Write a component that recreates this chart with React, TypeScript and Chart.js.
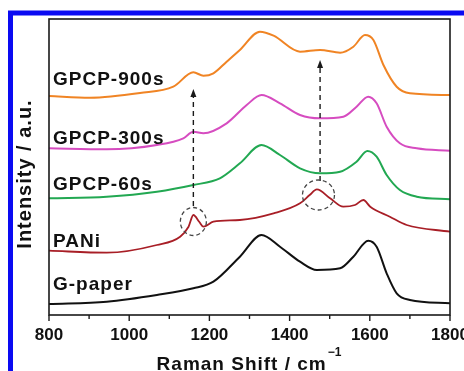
import React, { useEffect, useRef } from "react";
import { Chart, registerables } from "chart.js";

Chart.register(...registerables);

// ---- Data (Raman shift in cm^-1, intensity in arbitrary stacked units) ----
const gpcp900X = [800, 902, 1027, 1110, 1160, 1185, 1210, 1243, 1276, 1326, 1360, 1426, 1476, 1526, 1559, 1588, 1609, 1634, 1667, 1700, 1800];
const gpcp900Y = [219, 217.3, 222, 228.3, 242.7, 239.3, 241.7, 253.3, 265, 283.3, 279.3, 263.3, 265, 262.3, 268.3, 280, 275, 250, 228.3, 221.7, 220];

const gpcp300X = [800, 944, 1069, 1135, 1160, 1185, 1243, 1293, 1330, 1376, 1426, 1476, 1534, 1567, 1596, 1617, 1642, 1675, 1717, 1800];
const gpcp300Y = [166.7, 165.7, 170, 176.7, 183.3, 181.7, 191.7, 210, 220, 211.7, 200, 196.7, 198.3, 208.3, 218.3, 211.7, 188.3, 171.7, 166.7, 164.3];

const gpcp60X = [800, 944, 1069, 1160, 1226, 1276, 1330, 1376, 1426, 1476, 1526, 1567, 1594, 1617, 1642, 1675, 1717, 1800];
const gpcp60Y = [116.7, 118.3, 123.3, 130, 136.7, 151.7, 170, 160, 146.7, 141.7, 143.3, 153.3, 164, 158.3, 140, 125, 118.3, 115.7];

const paniX = [800, 944, 1069, 1127, 1148, 1160, 1175, 1185, 1210, 1276, 1360, 1426, 1450, 1468, 1501, 1534, 1563, 1584, 1601, 1650, 1692, 1800];
const paniY = [64.3, 62.3, 70, 78.3, 88.3, 100, 93, 88.3, 93.3, 95, 101.7, 111.7, 120, 125.7, 116.7, 108.3, 110, 115, 108.3, 98.3, 90, 83.3];

const gPaperX = [800, 944, 1069, 1160, 1210, 1276, 1330, 1376, 1426, 1468, 1526, 1559, 1596, 1617, 1642, 1667, 1700, 1800];
const gPaperY = [11, 13.3, 20, 26.7, 33.3, 58.3, 80, 68.3, 53.3, 45, 46.7, 58.3, 74.3, 68.3, 41.7, 21.7, 15, 11.7];

const seriesNames = ["GPCP-900s", "GPCP-300s", "GPCP-60s", "PANi", "G-paper"];
const seriesColors = ["#f08424", "#d64cc0", "#22a852", "#a81e26", "#111111"];
const labelX = 810;
const labelY = [235, 176.7, 130, 73.3, 30];

const xTickValues = [800, 1000, 1200, 1400, 1600, 1800];

// annotations (data coords)
const arrowX = [1160, 1476];
const arrowFrom = [109, 134];
const arrowTo = [226, 255];
const circleX = [1160, 1472];
const circleY = [93.5, 120];

const FONT = "'Liberation Sans', Arial, Helvetica, sans-serif";

const overlay = {
  id: "overlay",
  afterDraw(chart: any) {
    const ctx: CanvasRenderingContext2D = chart.ctx;
    const { left, right, top, bottom } = chart.chartArea;
    const xs = chart.scales.x;
    const ys = chart.scales.y;
    ctx.save();

    // blue outer border
    ctx.strokeStyle = "#0a0af2";
    ctx.lineWidth = 5;
    ctx.strokeRect(10.5, 13, 700, 600);

    // plot frame
    ctx.strokeStyle = "#1a1a1a";
    ctx.lineWidth = 1.6;
    ctx.strokeRect(left, top, right - left, bottom - top);

    // x ticks (outward)
    ctx.lineWidth = 1.4;
    for (let v = 800; v <= 1800; v += 100) {
      const px = xs.getPixelForValue(v);
      const len = v % 200 === 0 ? 6 : 4;
      ctx.beginPath();
      ctx.moveTo(px, bottom);
      ctx.lineTo(px, bottom + len);
      ctx.stroke();
    }

    // dashed arrows
    ctx.fillStyle = "#1a1a1a";
    for (let i = 0; i < arrowX.length; i++) {
      const px = xs.getPixelForValue(arrowX[i]);
      const p0 = ys.getPixelForValue(arrowFrom[i]);
      const p1 = ys.getPixelForValue(arrowTo[i]);
      ctx.setLineDash([5, 4]);
      ctx.lineWidth = 1.4;
      ctx.beginPath();
      ctx.moveTo(px, p0);
      ctx.lineTo(px, p1 + 7);
      ctx.stroke();
      ctx.setLineDash([]);
      ctx.beginPath();
      ctx.moveTo(px, p1);
      ctx.lineTo(px - 3, p1 + 8);
      ctx.lineTo(px + 3, p1 + 8);
      ctx.closePath();
      ctx.fill();
    }

    // dashed circles
    const radii = [[13, 14], [16, 15]];
    ctx.strokeStyle = "#444";
    ctx.lineWidth = 1.3;
    ctx.setLineDash([4, 3]);
    for (let i = 0; i < circleX.length; i++) {
      const cx = xs.getPixelForValue(circleX[i]);
      const cy = ys.getPixelForValue(circleY[i]);
      ctx.beginPath();
      ctx.ellipse(cx, cy, radii[i][0], radii[i][1], 0, 0, Math.PI * 2);
      ctx.stroke();
    }
    ctx.setLineDash([]);

    // series labels
    ctx.fillStyle = "#111";
    ctx.font = `bold 19px ${FONT}`;
    (ctx as any).letterSpacing = "1px";
    ctx.textAlign = "left";
    ctx.textBaseline = "middle";
    for (let i = 0; i < seriesNames.length; i++) {
      ctx.fillText(seriesNames[i], xs.getPixelForValue(labelX), ys.getPixelForValue(labelY[i]));
    }

    // y title
    ctx.save();
    ctx.font = `bold 20px ${FONT}`;
    (ctx as any).letterSpacing = "1px";
    ctx.translate(25, 174);
    ctx.rotate(-Math.PI / 2);
    ctx.textAlign = "center";
    ctx.textBaseline = "middle";
    ctx.fillText("Intensity / a.u.", 0, 0);
    ctx.restore();

    // x title with superscript
    ctx.font = `bold 19px ${FONT}`;
    (ctx as any).letterSpacing = "1px";
    const main = "Raman Shift / cm";
    const mw = ctx.measureText(main).width;
    ctx.font = `bold 12px ${FONT}`;
    (ctx as any).letterSpacing = "0px";
    const sup = "\u22121";
    const sw = ctx.measureText(sup).width;
    const cx = (left + right) / 2;
    const start = cx - (mw + sw + 2) / 2;
    ctx.font = `bold 19px ${FONT}`;
    (ctx as any).letterSpacing = "1px";
    ctx.textAlign = "left";
    ctx.textBaseline = "alphabetic";
    ctx.fillText(main, start, 370);
    ctx.font = `bold 12px ${FONT}`;
    (ctx as any).letterSpacing = "0px";
    ctx.fillText(sup, start + mw + 1, 356);

    ctx.restore();
  },
};

export default function App() {
  const ref = useRef<HTMLCanvasElement>(null);

  useEffect(() => {
    if (!ref.current) return;
    const xsList = [gpcp900X, gpcp300X, gpcp60X, paniX, gPaperX];
    const ysList = [gpcp900Y, gpcp300Y, gpcp60Y, paniY, gPaperY];
    const datasets = seriesNames.map((name, i) => ({
      label: name,
      data: xsList[i].map((x, j) => ({ x, y: ysList[i][j] })),
      borderColor: seriesColors[i],
      backgroundColor: seriesColors[i],
      borderWidth: i === 3 ? 1.8 : 2,
      pointRadius: 0,
      cubicInterpolationMode: "monotone" as const,
      fill: false,
    }));
    const chart = new Chart(ref.current, {
      type: "line",
      data: { datasets },
      options: {
        animation: false,
        responsive: false,
        maintainAspectRatio: false,
        devicePixelRatio: 1,
        layout: { padding: { left: 49, right: 50, top: 19, bottom: 0 } },
        plugins: { legend: { display: false }, tooltip: { enabled: false } },
        scales: {
          x: {
            type: "linear",
            min: 800,
            max: 1800,
            afterBuildTicks: (scale: any) => {
              scale.ticks = xTickValues.map((v) => ({ value: v }));
            },
            afterFit: (scale: any) => {
              scale.height = 56;
            },
            ticks: {
              color: "#111",
              font: { family: FONT, weight: "bold", size: 17 },
              padding: 10,
              maxRotation: 0,
              autoSkip: false,
              callback: (v: any) => String(v),
            },
            grid: { display: false, drawTicks: false },
            border: { display: false },
          },
          y: { display: false, min: 0, max: 296 },
        },
      },
      plugins: [overlay],
    });
    return () => chart.destroy();
  }, []);

  return (
    <div
      style={{
        position: "fixed",
        left: 0,
        top: 0,
        width: 464,
        height: 371,
        overflow: "hidden",
        background: "#fff",
      }}
    >
      <canvas ref={ref} width={500} height={371} style={{ display: "block", width: 500, height: 371 }} />
    </div>
  );
}
